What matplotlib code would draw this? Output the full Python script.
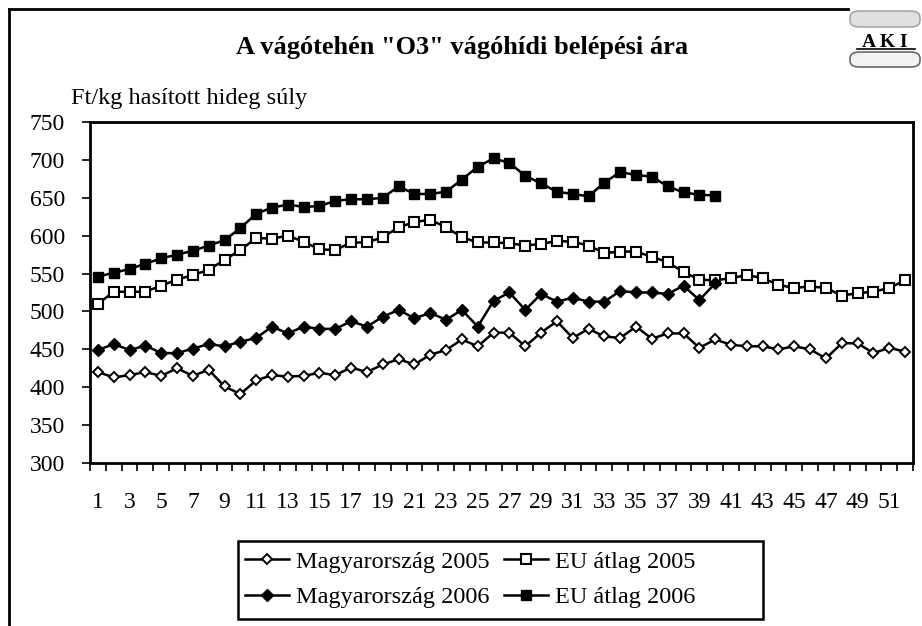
import matplotlib
matplotlib.use("Agg")
import matplotlib.pyplot as plt
from matplotlib.lines import Line2D
from matplotlib.patches import Rectangle, FancyBboxPatch

plt.rcParams['font.family'] = ['Liberation Serif', 'DejaVu Serif']

weeks = list(range(1, 53))
hu2005 = [420, 413, 416, 420, 415, 425, 415, 423, 401, 391,
          409, 416, 414, 415, 419, 416, 426, 420, 430, 437,
          430, 443, 449, 463, 454, 472, 472, 454, 472, 487,
          465, 477, 467, 465, 480, 464, 471, 471, 452, 463,
          456, 454, 454, 450, 454, 450, 438, 458, 458, 445, 452, 447]
eu2005 = [510, 526, 526, 526, 534, 542, 548, 555, 568, 581,
          597, 596, 600, 592, 582, 581, 591, 591, 598, 611,
          618, 621, 611, 598, 591, 591, 590, 587, 589, 593,
          592, 587, 577, 579, 579, 572, 565, 552, 542, 541,
          544, 548, 544, 535, 531, 533, 531, 521, 524, 526, 531, 541]
hu2006 = [449, 457, 449, 455, 445, 445, 451, 457, 454, 460,
          465, 480, 471, 480, 477, 477, 487, 480, 493, 502,
          491, 498, 489, 502, 480, 514, 525, 502, 523, 513,
          518, 513, 513, 527, 525, 525, 523, 534, 515, 537]
eu2006 = [546, 551, 556, 563, 570, 575, 580, 587, 594, 610,
          629, 637, 641, 638, 639, 646, 648, 648, 650, 665,
          655, 655, 658, 674, 691, 702, 696, 679, 669, 658,
          655, 652, 670, 684, 680, 678, 665, 657, 654, 653]
labels = ["Magyarország 2005", "EU átlag 2005", "Magyarország 2006", "EU átlag 2006"]
yticks = [300, 350, 400, 450, 500, 550, 600, 650, 700, 750]
title = 'A vágótehén "O3" vágóhídi belépési ára'
ylabel = "Ft/kg hasított hideg súly"

W, H = 922, 626
fig = plt.figure(figsize=(W / 100, H / 100), dpi=100)
fig.patch.set_facecolor('white')

def fx(x):
    return x / W

def fy(y):
    return 1 - y / H

ax = fig.add_axes([fx(90), fy(463), (913 - 90) / W, (463 - 122) / H])

l1, = ax.plot(weeks, hu2005, color='black', lw=1.8, marker='D', ms=5.2,
              mfc='white', mec='black', mew=1.4)
l2, = ax.plot(weeks, eu2005, color='black', lw=1.8, marker='s', ms=6.8,
              mfc='white', mec='black', mew=1.5)
l3, = ax.plot(weeks[:len(hu2006)], hu2006, color='black', lw=1.8, marker='D', ms=6.2,
              mfc='black', mec='black', mew=1.0)
l4, = ax.plot(weeks[:len(eu2006)], eu2006, color='black', lw=1.8, marker='s', ms=7.2,
              mfc='black', mec='black', mew=1.0)

ax.set_xlim(0.5, 52.5)
ax.set_ylim(300, 750)
ax.set_yticks(yticks)
ax.set_xticks(weeks)
ax.set_xticklabels([str(w) if w % 2 == 1 else '' for w in weeks])
ax.set_xticks([w - 0.5 for w in weeks] + [52.5], minor=True)
ax.tick_params(axis='x', which='major', length=0, pad=21, labelsize=17)
ax.tick_params(axis='x', which='minor', length=6, width=1.2, direction='out')
ax.tick_params(axis='y', which='major', length=6, width=1.2, direction='out', pad=12, labelsize=17)
for s in ax.spines.values():
    s.set_linewidth(2.0)

fig.text(fx(462), fy(54), title, ha='center', va='baseline', fontsize=19, fontweight='bold')
fig.text(fx(71), fy(104), ylabel, ha='left', va='baseline', fontsize=17.5)

leg = fig.legend([l1, l3, l2, l4], [labels[0], labels[2], labels[1], labels[3]], ncol=2,
                 loc='upper left', bbox_to_anchor=(fx(240), fy(546)), frameon=False,
                 fontsize=17.5, handlelength=1.8, handletextpad=0.3, columnspacing=0.6,
                 labelspacing=0.55, borderpad=0.2, borderaxespad=0)
fig.add_artist(Rectangle((fx(238), fy(619)), (763 - 238) / W, (619 - 541) / H,
                         transform=fig.transFigure, fill=False, lw=1.8, ec='black'))

# outer frame (left and top visible)
fig.add_artist(Line2D([fx(9), fx(9)], [0, fy(9)], transform=fig.transFigure, color='black', lw=2))
fig.add_artist(Line2D([fx(9), fx(848)], [fy(9), fy(9)], transform=fig.transFigure, color='black', lw=2))

# AKI logo approximation
fig.add_artist(FancyBboxPatch((fx(850), fy(27)), (920 - 850) / W, (27 - 11) / H,
                              boxstyle='round,pad=0,rounding_size=0.01', transform=fig.transFigure,
                              fc='#e0e0e0', ec='#9a9a9a', lw=1))
fig.add_artist(FancyBboxPatch((fx(850), fy(67)), (920 - 850) / W, (67 - 52) / H,
                              boxstyle='round,pad=0,rounding_size=0.01', transform=fig.transFigure,
                              fc='#f2f2f2', ec='#6a6a6a', lw=1.2))
fig.text(fx(885), fy(47), "A K I", ha='center', va='baseline', fontsize=14, fontweight='bold')
fig.add_artist(Line2D([fx(857), fx(915)], [fy(49), fy(49)], transform=fig.transFigure, color='black', lw=1.2))

fig.savefig('out.png', dpi=100)
